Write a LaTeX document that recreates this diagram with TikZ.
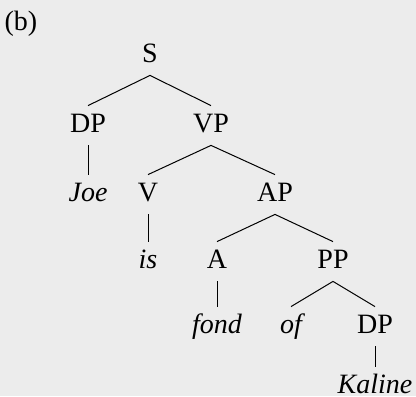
\documentclass[tikz,border=0pt]{standalone}
\usepackage{fontspec}
\setmainfont{Liberation Serif}
\definecolor{bg}{RGB}{236,236,236}
\tikzset{cat/.style={inner sep=0pt,anchor=base,text height=13pt,text depth=6.5pt,font=\fontsize{14}{17}\selectfont},
 wd/.style={cat,font=\fontsize{14}{17}\selectfont\itshape},
 edge/.style={line width=.5pt}}
\begin{document}
\begin{tikzpicture}[x=.5pt,y=-.5pt]
\fill[bg] (0,0) rectangle (416,396);
\useasboundingbox (0,0) rectangle (416,396);
\node[cat] (lbl) at (21,30) {(b)};
\node[cat] (s) at (150,62) {S};
\node[cat] (dp) at (88,132) {DP};
\node[cat] (vp) at (211,132) {VP};
\node[wd] (joe) at (88,201) {Joe};
\node[cat] (v) at (148,201) {V};
\node[cat] (ap) at (275,201) {AP};
\node[wd] (is) at (148,268) {is};
\node[cat] (a) at (217,268) {A};
\node[cat] (pp) at (333,268) {PP};
\node[wd] (fond) at (217,333) {fond};
\node[wd] (of) at (291,333) {of};
\node[cat] (dpb) at (375,333) {DP};
\node[wd] (kaline) at (375,393) {Kaline};
\foreach \a/\b in {s/dp,s/vp,dp/joe,vp/v,vp/ap,v/is,ap/a,ap/pp,a/fond,pp/of,pp/dpb,dpb/kaline}{\draw[edge] (\a.south)--(\b.north);}
\end{tikzpicture}
\end{document}
